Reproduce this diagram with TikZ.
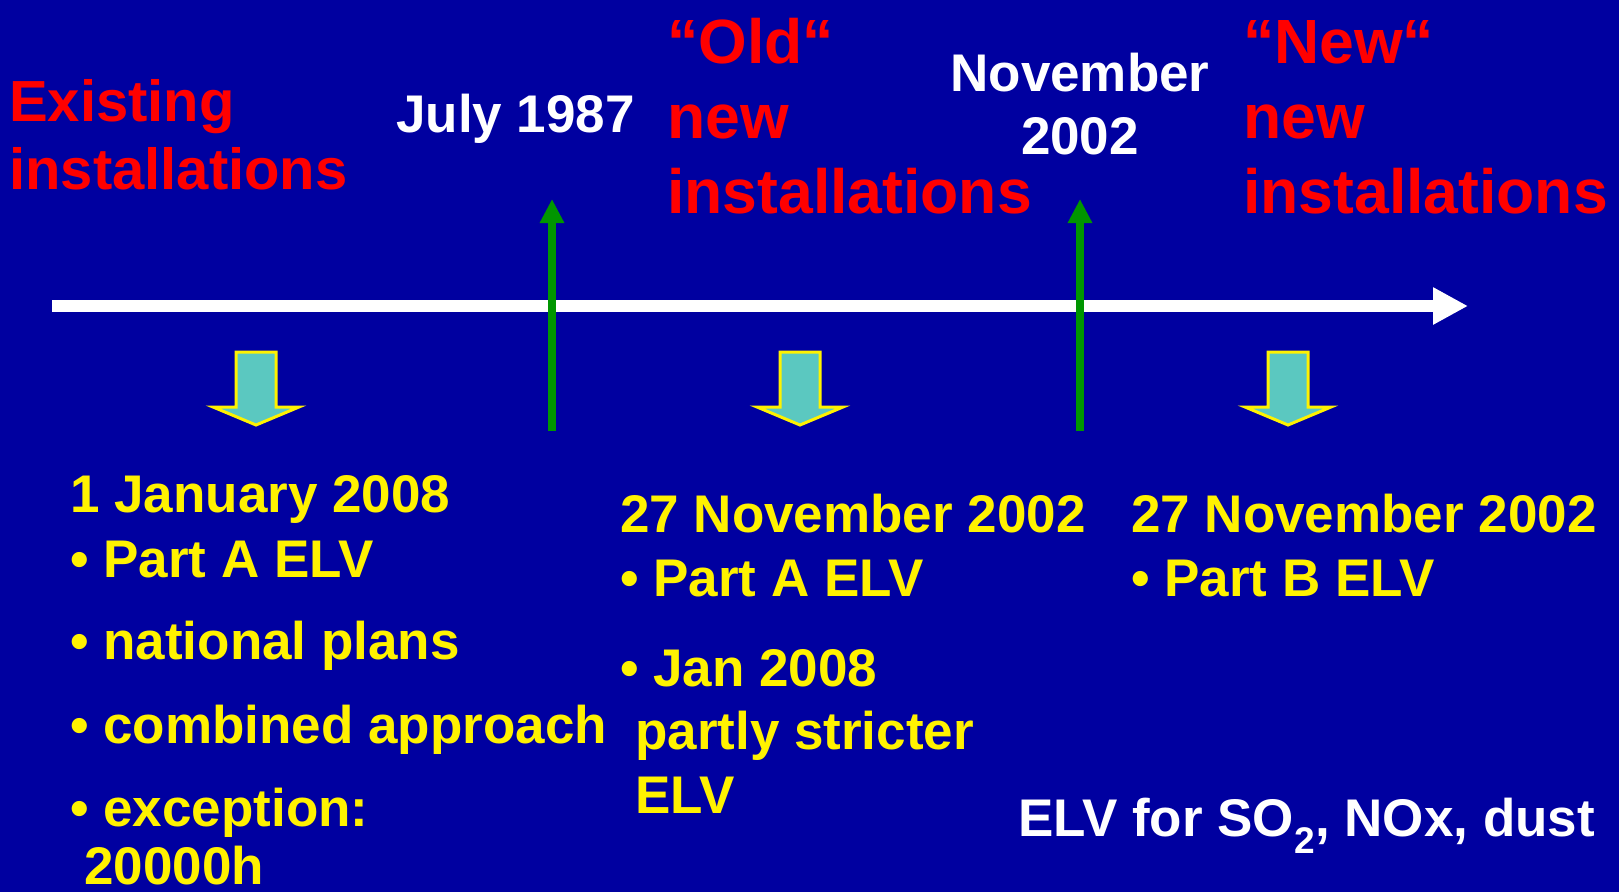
\documentclass[tikz,border=0pt]{standalone}
\usepackage{fontspec}
\setmainfont{Liberation Sans}
\usetikzlibrary{arrows.meta}

\definecolor{sfondo}{RGB}{0,0,160}
\definecolor{verde}{RGB}{0,150,0}
\definecolor{ciano}{RGB}{91,200,192}

\begin{document}
\begin{tikzpicture}[x=1pt, y=-1pt]
	% Stili per testi e frecce
	\tikzset{
		testo/.style={anchor=base west, inner sep=0pt},
		rosso/.style={testo, text=red, font=\bfseries\fontsize{58}{70}\selectfont},
		rossogr/.style={testo, text=red, font=\bfseries\fontsize{62.5}{75}\selectfont},
		bianco/.style={testo, text=white, font=\bfseries\fontsize{53}{62}\selectfont},
		giallo/.style={testo, text=yellow, font=\bfseries\fontsize{53}{62}\selectfont},
		linea/.style={white, line width=12pt, -{Triangle[length=35pt, width=35pt]}},
		freccia/.style={verde, line width=8.3pt, -{Triangle[length=24pt, width=23pt]}},
		blocco/.style={fill=ciano, draw=yellow, line width=3pt, line join=miter}
	}
	
	% Sfondo
	\fill[sfondo] (0,0) rectangle (1619,892);
	\useasboundingbox (0,0) rectangle (1619,892);
	
	% Asse del tempo
	\coordinate (t0) at (52,306);
	\coordinate (t1) at (1468,306);
	\draw[linea] (t0) -- (t1);
	
	% Frecce verdi (date)
	\coordinate (lug-giu) at (552,431);
	\coordinate (lug-su) at (552,199);
	\coordinate (nov-giu) at (1080,431);
	\coordinate (nov-su) at (1080,199);
	\draw[freccia] (lug-giu) -- (lug-su);
	\draw[freccia] (nov-giu) -- (nov-su);
	
	% Frecce a blocco
	\foreach \c in {256, 800, 1288}
		\draw[blocco] (\c-20,352) -- (\c+20,352) -- (\c+20,407) -- (\c+43,407)
			-- (\c,425) -- (\c-43,407) -- (\c-20,407) -- cycle;
	
	% Titoli in rosso
	\node[rosso] (esist1) at (9,121) {Existing};
	\node[rosso] (esist2) at (9,189) {installations};
	\node[rossogr] (vecchi1) at (667,63) {“Old“};
	\node[rossogr] (vecchi2) at (667,138) {new};
	\node[rossogr] (vecchi3) at (667,213) {installations};
	\node[rossogr] (nuovi1) at (1243,63) {“New“};
	\node[rossogr] (nuovi2) at (1243,138) {new};
	\node[rossogr] (nuovi3) at (1243,213) {installations};
	
	% Date in bianco
	\node[bianco] (luglio) at (396,132) {July 1987};
	\node[bianco, anchor=base] (nov1) at (1080,91) {November};
	\node[bianco, anchor=base] (nov2) at (1080,154) {2002};
	\node[bianco] (elv) at (1018,836) {ELV for SO\textsubscript{2}, NOx, dust};
	
	% Colonna sinistra
	\node[giallo] (sx0) at (70,512) {1 January 2008};
	\node[giallo] (sx1) at (70,577) {• Part A ELV};
	\node[giallo] (sx2) at (70,659) {• national plans};
	\node[giallo] (sx3) at (70,743) {• combined approach};
	\node[giallo] (sx4) at (70,826) {• exception:};
	\node[giallo] (sx5) at (84,884) {20000h};
	
	% Colonna centrale
	\node[giallo] (cx0) at (620,532) {27 November 2002};
	\node[giallo] (cx1) at (620,596) {• Part A ELV};
	\node[giallo] (cx2) at (620,686) {• Jan 2008};
	\node[giallo] (cx3) at (635,749) {partly stricter};
	\node[giallo] (cx4) at (635,813) {ELV};
	
	% Colonna destra
	\node[giallo] (dx0) at (1131,532) {27 November 2002};
	\node[giallo] (dx1) at (1131,596) {• Part B ELV};
\end{tikzpicture}
\end{document}
